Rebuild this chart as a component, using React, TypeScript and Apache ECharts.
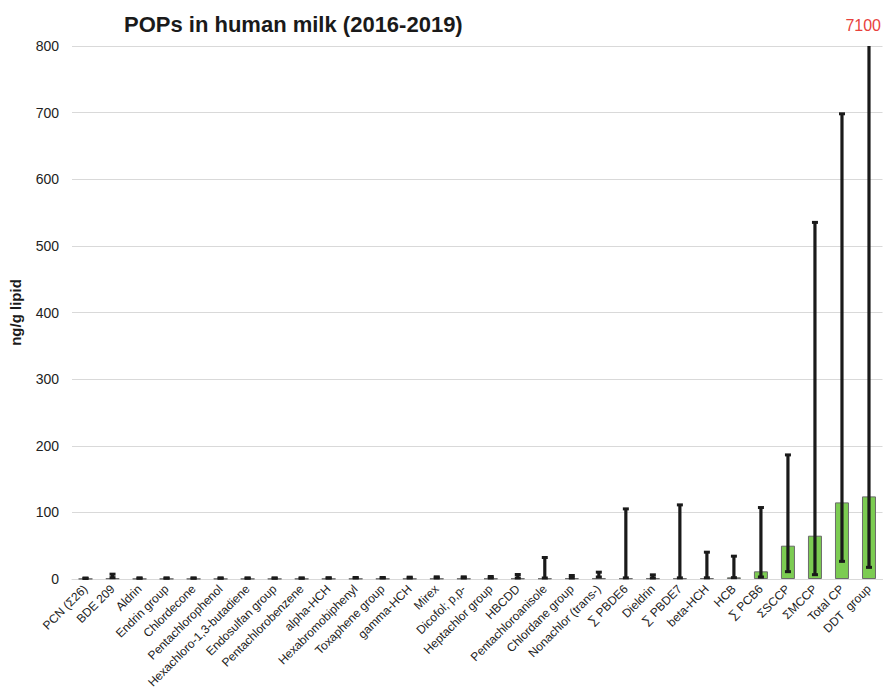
import React, { useEffect, useRef } from "react";
import * as echarts from "echarts";

const categories = [
  "PCN (Σ26)", "BDE 209", "Aldrin", "Endrin group", "Chlordecone", "Pentachlorophenol",
  "Hexachloro-1,3-butadiene", "Endosulfan group", "Pentachlorobenzene", "alpha-HCH",
  "Hexabromobiphenyl", "Toxaphene group", "gamma-HCH", "Mirex", "Dicofol; p,p-",
  "Heptachlor group", "HBCDD", "Pentachloroanisole", "Chlordane group", "Nonachlor (trans-)",
  "∑ PBDE6", "Dieldrin", "∑ PBDE7", "beta-HCH", "HCB", "∑ PCB6", "ΣSCCP", "ΣMCCP",
  "Total CP", "DDT  group",
];
const medianValues = [
  0.3, 1, 0.3, 0.3, 0.3, 0.3, 0.3, 0.3, 0.4, 0.4, 0.5, 0.5, 0.5, 0.6, 0.6,
  0.7, 0.8, 0.8, 1, 1, 1, 1, 1, 1.2, 2.5, 11.5, 50, 65, 115, 124,
];
const lowValues = [
  0, 0.5, 0, 0, 0, 0, 0, 0, 0, 0, 0, 0, 0, 0, 0,
  0, 0, 0, 0, 1.5, 0.2, 0, 0.2, 0.3, 0.5, 1.5, 9.5, 5, 25, 16,
];
const highValues = [
  1.5, 8, 2, 2, 2, 2, 2, 2, 2, 2.5, 3, 3, 3.5, 4, 4,
  4.5, 7.5, 33, 6, 11, 106, 7, 112, 41, 35, 108, 187, 536, 699, 7100,
];
const yTicks = { min: 0, max: 800, interval: 100 };

const FONT = "Liberation Sans, Arial, sans-serif";

export default function App() {
  const ref = useRef<HTMLDivElement>(null);
  useEffect(() => {
    if (!ref.current) return;
    const chart = echarts.init(ref.current, null, { renderer: "svg" });
    const errData = categories.map((_, i) => [i, lowValues[i], highValues[i]]);
    chart.setOption({
      animation: false,
      backgroundColor: "#ffffff",
      title: {
        text: "POPs in human milk (2016-2019)",
        left: 119,
        top: 8,
        textStyle: { fontFamily: FONT, fontSize: 22, fontWeight: "bold", color: "#1a1a1a" },
      },
      grid: { left: 68.5, right: 1.5, top: 46, bottom: 115, containLabel: false },
      xAxis: {
        type: "category",
        data: categories,
        axisLine: { show: true, lineStyle: { color: "#d9d9d9", width: 1 } },
        axisTick: { show: false },
        axisLabel: {
          interval: 0,
          rotate: 45,
          fontFamily: FONT,
          fontSize: 12,
          color: "#222",
          margin: 8,
        },
      },
      yAxis: {
        type: "value",
        min: yTicks.min,
        max: yTicks.max,
        interval: yTicks.interval,
        name: "ng/g lipid",
        nameLocation: "middle",
        nameGap: 49,
        nameRotate: 90,
        nameTextStyle: { fontFamily: FONT, fontSize: 15, fontWeight: "bold", color: "#1a1a1a" },
        axisLine: { show: false },
        axisTick: { show: false },
        axisLabel: { fontFamily: FONT, fontSize: 14, color: "#222", margin: 13 },
        splitLine: { lineStyle: { color: "#d9d9d9", width: 1 } },
      },
      series: [
        {
          type: "bar",
          data: medianValues,
          barWidth: 14,
          itemStyle: { color: "#7ccc52", borderColor: "#6b6b6b", borderWidth: 1 },
          z: 2,
        },
        {
          type: "custom",
          data: errData,
          z: 3,
          clip: false,
          renderItem: (params: any, api: any) => {
            const idx = api.value(0);
            const lo = api.coord([idx, api.value(1)]);
            const hi = api.coord([idx, api.value(2)]);
            const cs = params.coordSys;
            const x = lo[0];
            const clipped = hi[1] < cs.y;
            const hiY = clipped ? cs.y : hi[1];
            const children: any[] = [
              {
                type: "rect",
                shape: { x: x - 1.6, y: hiY, width: 3.2, height: lo[1] - hiY },
                style: { fill: "#1a1a1a" },
              },
              {
                type: "rect",
                shape: { x: x - 3, y: lo[1] - 2.5, width: 6, height: 3 },
                style: { fill: "#1a1a1a" },
              },
            ];
            if (!clipped) {
              children.push({
                type: "rect",
                shape: { x: x - 3, y: hiY - 1, width: 6, height: 3 },
                style: { fill: "#1a1a1a" },
              });
            } else {
              children.push({
                type: "text",
                style: {
                  text: String(api.value(2)),
                  x: x + 12,
                  y: cs.y - 21,
                  align: "right",
                  verticalAlign: "middle",
                  fill: "#e8413c",
                  font: `16px ${FONT}`,
                },
              });
            }
            return { type: "group", children };
          },
        },
      ],
    });
    return () => chart.dispose();
  }, []);
  return <div ref={ref} style={{ width: 884, height: 694, position: "absolute", left: 0, top: 0 }} />;
}
